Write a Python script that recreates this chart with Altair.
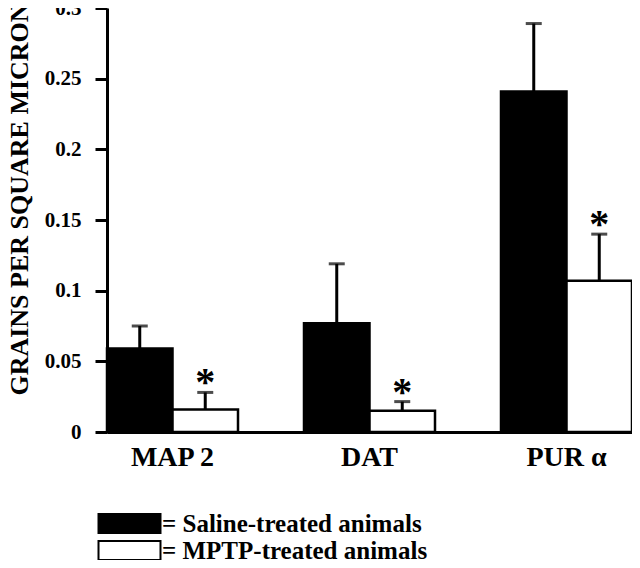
import altair as alt
import pandas as pd

markers = ["MAP 2", "DAT", "PUR α"]
groups = ["Saline-treated animals", "MPTP-treated animals"]
saline_mean = [0.059, 0.077, 0.241]
saline_upper = [0.075, 0.119, 0.289]
mptp_mean = [0.016, 0.015, 0.107]
mptp_upper = [0.028, 0.0215, 0.140]
mptp_sig = ["*", "*", "*"]
y_ticks = [0, 0.05, 0.1, 0.15, 0.2, 0.25, 0.3]

rows = []
for i, m in enumerate(markers):
    rows.append({"marker": m, "group": groups[0], "mean": saline_mean[i],
                 "upper": saline_upper[i], "sig": ""})
    rows.append({"marker": m, "group": groups[1], "mean": mptp_mean[i],
                 "upper": mptp_upper[i], "sig": mptp_sig[i]})
df = pd.DataFrame(rows)

FONT = "Liberation Serif"

x = alt.X("marker:N", sort=markers,
          scale=alt.Scale(paddingInner=0.335, paddingOuter=0),
          axis=alt.Axis(title=None, labelAngle=0, ticks=False, domainColor="black",
                        domainWidth=3, labelFont=FONT, labelFontWeight="bold",
                        labelFontSize=28, labelColor="black", labelPadding=11))
xoff = alt.XOffset("group:N", sort=groups,
                   scale=alt.Scale(paddingInner=0, paddingOuter=0))

base = alt.Chart(df)

bars = base.mark_bar(stroke="black", strokeWidth=2.5).encode(
    x=x, xOffset=xoff,
    y=alt.Y("mean:Q", scale=alt.Scale(domain=[0, 0.3], nice=False, zero=True),
            axis=alt.Axis(title="GRAINS PER SQUARE MICRON", values=y_ticks,
                          labelExpr="format(datum.value, '.2~f')",
                          grid=False, domainColor="black", domainWidth=3,
                          tickColor="black", tickWidth=3, tickSize=12,
                          labelFont=FONT, labelFontWeight="bold", labelFontSize=21,
                          labelColor="black", labelPadding=14,
                          titleFont=FONT, titleFontWeight="bold", titleFontSize=26,
                          titleColor="black", titleX=-88, titleY=191,
                          titleAlign="center", titleBaseline="middle")),
    fill=alt.Fill("group:N", sort=groups,
                  scale=alt.Scale(domain=groups, range=["black", "white"]),
                  legend=alt.Legend(title=None, orient="none", legendX=10, legendY=503,
                                    symbolType="M-3,-0.92H3V0.92H-3Z", symbolSize=427,
                                    symbolStrokeColor="black", symbolStrokeWidth=2,
                                    labelExpr="'= ' + datum.label",
                                    labelFont=FONT, labelFontWeight="bold",
                                    labelFontSize=25, labelColor="black",
                                    labelOffset=20, rowPadding=-12,
                                    padding=0, labelLimit=500)),
)

err = base.mark_rule(color="black", strokeWidth=3).encode(
    x=x, xOffset=xoff, y="mean:Q", y2="upper:Q")

caps = base.mark_tick(color="black", thickness=3, size=16).encode(
    x=x, xOffset=xoff, y="upper:Q")

stars = base.transform_filter("datum.sig != ''").mark_text(
    font=FONT, fontWeight="bold", fontSize=40, color="black", baseline="alphabetic", dy=3
).encode(x=x, xOffset=xoff, y="upper:Q", text="sig:N")

chart = alt.layer(bars, err, caps, stars).properties(
    width=525, height=424,
    padding={"left": 99, "top": 0, "right": 0, "bottom": 128},
    autosize=alt.AutoSizeParams(type="none"),
).configure_view(stroke=None)

chart.save("out.html", embed_options={"renderer": "svg", "actions": False})
